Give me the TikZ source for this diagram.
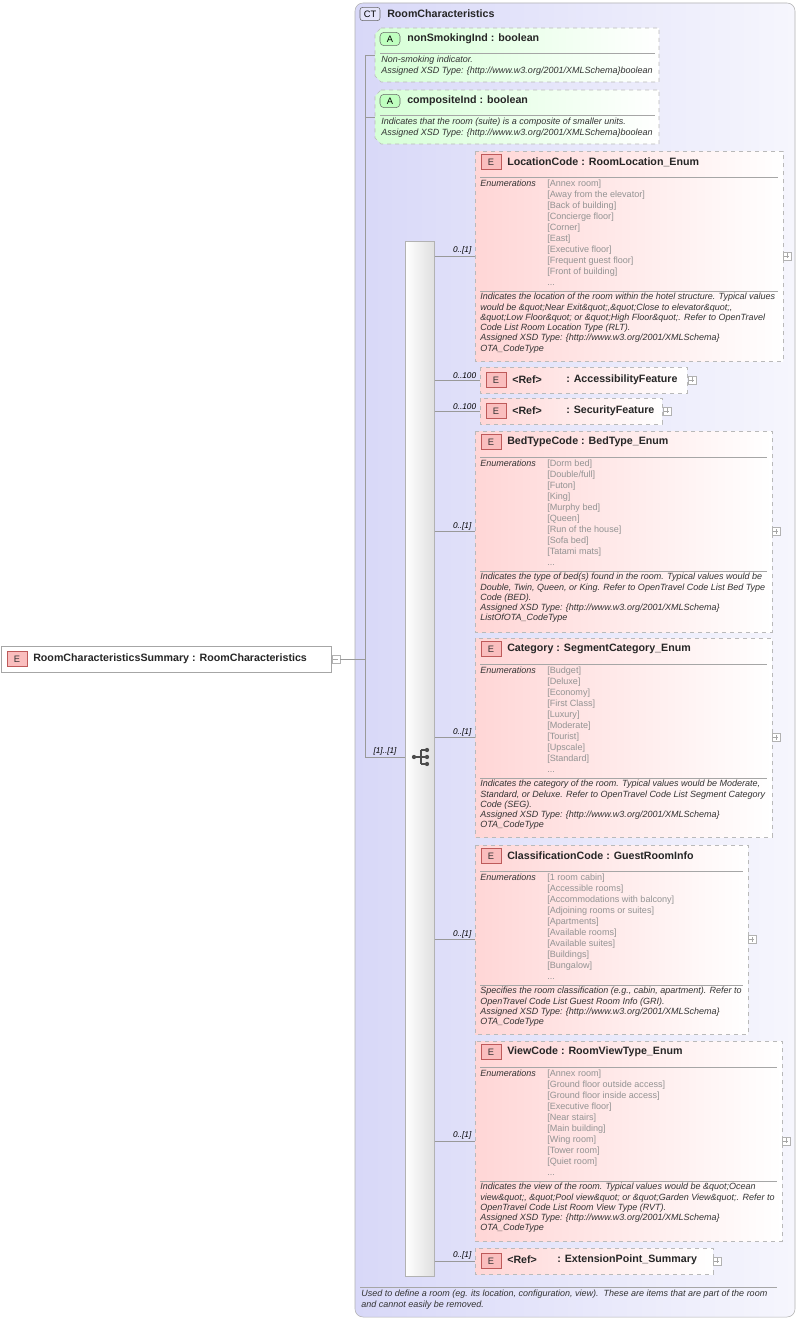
\documentclass[tikz,border=0pt]{standalone}
\usepackage{fontspec}
\setmainfont{Liberation Sans}
\definecolor{lav}{RGB}{216,216,248}
\definecolor{lavr}{RGB}{246,246,253}
\definecolor{pinkl}{RGB}{255,214,214}
\definecolor{grn}{RGB}{214,255,214}
\definecolor{ebd}{RGB}{190,90,90}
\definecolor{efill}{RGB}{250,190,190}
\tikzset{
 x=0.75pt,y=-0.75pt,
 ebox/.style={dashed,draw=gray!55,left color=pinkl,right color=white,shading angle=90},
 hdr/.style={font=\fontsize{8}{9}\selectfont\bfseries,text=black!85,inner sep=0pt,anchor=west},
 eicon/.style={draw=ebd,fill=efill,minimum width=15pt,minimum height=11pt,inner sep=0pt,font=\fontsize{7}{8}\selectfont,text=black!80},
 sep/.style={draw=gray!70},
 enumt/.style={font=\fontsize{6.8}{8.2}\selectfont,text=gray!85,inner sep=0pt,anchor=north west,align=left},
 desct/.style={font=\fontsize{6.75}{7.7}\selectfont\itshape,text=black!80,inner sep=0pt,anchor=north west,align=left},
 mult/.style={font=\fontsize{6.2}{7}\selectfont\itshape,inner sep=1pt,anchor=south east},
 conn/.style={draw=gray!80},
 plusb/.style={draw=gray!60,fill=white,minimum size=6pt,inner sep=0pt},
}
\newcommand\plusat[2]{\node[plusb] (#1) at (#2) {};\draw[gray!70] (#1.west)++(1.2pt,0) -- ++(3.6pt,0) (#1.north)++(0,-1.2pt) -- ++(0,-3.6pt);}
% id, top, bottom, right, header, items, desc
\newcommand\ebox[7]{%
 \draw[ebox] (475,#2) rectangle (#4,#3);
 \node[eicon] (#1i) at (491,#2+11) {E};
 \node[hdr] (#1h) at (507,#2+11) {#5};
 \draw[sep] (480,#2+26) -- (#4-5,#2+26);
 \node[desct] (#1n) at (480,#2+29) {Enumerations};
 \node[enumt] (#1e) at (547,#2+29) {#6};
 \draw[sep] (480,#2+140) -- (#4-5,#2+140);
 \node[desct] (#1d) at (480,#2+142) {#7};
 \coordinate (#1c) at (475,{(#2+#3)/2});
 \draw[conn] (seq.east |- #1c) -- (#1c) node[mult,pos=0.95] {0..[1]};
 \plusat{#1p}{#4+4,{(#2+#3)/2}}
}
\newcommand\refbox[6]{% id, y, right, mult, name, xoff
 \draw[ebox] (480,#2-13) rectangle (#3,#2+13);
 \node[eicon] (#1i) at (496,#2) {E};
 \node[hdr] (#1h) at (512,#2) {<Ref>};
 \node[hdr] (#1n) at (#6,#2) {: #5};
 \coordinate (#1c) at (480,#2);
 \draw[conn] (seq.east |- #1c) -- (#1c) node[mult,pos=0.95] {#4};
 \plusat{#1p}{#3+5,#2}
}
\begin{document}
\begin{tikzpicture}
\useasboundingbox (0,0) rectangle (800,1320);
\fill[white] (0,0) rectangle (800,1320);
% container
\draw[gray!60,rounded corners=6pt,left color=lav,right color=lavr,shading angle=90] (355,3) rectangle (795,1317);
\node[draw=black!60,fill=lav!70,rounded corners=2pt,minimum width=15pt,minimum height=10pt,inner sep=0pt,font=\fontsize{7}{8}\selectfont] (cti) at (370,14) {CT};
\node[hdr] (ct) at (387,14) {RoomCharacteristics};
% root
\node[draw=gray!70,fill=white,minimum width=247.5pt,minimum height=19.5pt,anchor=west,inner sep=0pt] (root) at (1,659) {};
\node[eicon] (rooti) at (17,659) {E};
\node[hdr] (rooth) at (33,659) {RoomCharacteristicsSummary : RoomCharacteristics};
\node[plusb] (rootp) at (336,659) {};
\draw[gray!70] (rootp.west)++(1.2pt,0) -- ++(3.6pt,0);
\coordinate (trunk) at (365,659);
\draw[conn] (rootp.east) -- (trunk);
% sequence bar
\node[draw=gray!60,left color=white,right color=gray!25,shading angle=90,minimum width=21.75pt,minimum height=776pt,inner sep=0pt,anchor=north west] (seq) at (405,241) {};
\fill[black!70] (414,757) circle (1.6pt) (427,750) circle (1.6pt) (427,757) circle (1.6pt) (427,764) circle (1.6pt);
\draw[black!70,thick] (414,757) -- (421,757) (421,750) -- (421,764) (421,750) -- (427,750) (421,764) -- (427,764) (421,757) -- (427,757);
% trunk lines
\coordinate (a1c) at (375,55);
\coordinate (a2c) at (375,117);
\draw[conn] (365,55) -- (365,757) -- (seq.west |- 0,757) node[mult,pos=0.5,anchor=south] {[1]..[1]};
\draw[conn] (365,55) -- (a1c);
\draw[conn] (365,117) -- (a2c);
% attributes
\foreach \t/\id/\nm/\d in {28/a1/nonSmokingInd/Non-smoking indicator., 90/a2/compositeInd/Indicates that the room (suite) is a composite of smaller units.}{
 \draw[dashed,draw=gray!55,left color=grn,right color=white,shading angle=90] (381,\t) -- (659,\t) -- (659,\t+54) -- (381,\t+54) -- (375,\t+48) -- (375,\t+6) -- cycle;
 \node[draw=black!60,fill=green!25,rounded corners=3pt,minimum width=15pt,minimum height=10pt,inner sep=0pt,font=\fontsize{7}{8}\selectfont] (\id i) at (390,\t+11) {A};
 \node[hdr] (\id h) at (407,\t+11) {\nm\ : boolean};
 \draw[sep] (380,\t+25) -- (655,\t+25);
 \node[desct] (\id d) at (381,\t+28) {\d\\Assigned XSD Type: \{http://www.w3.org/2001/XMLSchema\}boolean};
}
\ebox{loc}{151}{361}{783}{LocationCode : RoomLocation\_Enum}
 {[Annex room]\\[0pt][Away from the elevator]\\[0pt][Back of building]\\[0pt][Concierge floor]\\[0pt][Corner]\\[0pt][East]\\[0pt][Executive floor]\\[0pt][Frequent guest floor]\\[0pt][Front of building]\\...}
 {Indicates the location of the room within the hotel structure. Typical values\\would be \&quot;Near Exit\&quot;,\&quot;Close to elevator\&quot;,\\\&quot;Low Floor\&quot; or \&quot;High Floor\&quot;. Refer to OpenTravel\\Code List Room Location Type (RLT).\\Assigned XSD Type: \{http://www.w3.org/2001/XMLSchema\}\\OTA\_CodeType}
\refbox{acc}{380}{687}{0..100}{AccessibilityFeature}{566}
\refbox{sec}{411}{662}{0..100}{SecurityFeature}{566}
\ebox{bed}{431}{632}{772}{BedTypeCode : BedType\_Enum}
 {[Dorm bed]\\[0pt][Double/full]\\[0pt][Futon]\\[0pt][King]\\[0pt][Murphy bed]\\[0pt][Queen]\\[0pt][Run of the house]\\[0pt][Sofa bed]\\[0pt][Tatami mats]\\...}
 {Indicates the type of bed(s) found in the room. Typical values would be\\Double, Twin, Queen, or King. Refer to OpenTravel Code List Bed Type\\Code (BED).\\Assigned XSD Type: \{http://www.w3.org/2001/XMLSchema\}\\ListOfOTA\_CodeType}
\ebox{cat}{638}{837}{772}{Category : SegmentCategory\_Enum}
 {[Budget]\\[0pt][Deluxe]\\[0pt][Economy]\\[0pt][First Class]\\[0pt][Luxury]\\[0pt][Moderate]\\[0pt][Tourist]\\[0pt][Upscale]\\[0pt][Standard]\\[0pt]...}
 {Indicates the category of the room. Typical values would be Moderate,\\Standard, or Deluxe. Refer to OpenTravel Code List Segment Category\\Code (SEG).\\Assigned XSD Type: \{http://www.w3.org/2001/XMLSchema\}\\OTA\_CodeType}
\ebox{cls}{845}{1034}{748}{ClassificationCode : GuestRoomInfo}
 {[1 room cabin]\\[0pt][Accessible rooms]\\[0pt][Accommodations with balcony]\\[0pt][Adjoining rooms or suites]\\[0pt][Apartments]\\[0pt][Available rooms]\\[0pt][Available suites]\\[0pt][Buildings]\\[0pt][Bungalow]\\...}
 {Specifies the room classification (e.g., cabin, apartment). Refer to\\OpenTravel Code List Guest Room Info (GRI).\\Assigned XSD Type: \{http://www.w3.org/2001/XMLSchema\}\\OTA\_CodeType}
\ebox{view}{1041}{1241}{782}{ViewCode : RoomViewType\_Enum}
 {[Annex room]\\[0pt][Ground floor outside access]\\[0pt][Ground floor inside access]\\[0pt][Executive floor]\\[0pt][Near stairs]\\[0pt][Main building]\\[0pt][Wing room]\\[0pt][Tower room]\\[0pt][Quiet room]\\...}
 {Indicates the view of the room. Typical values would be \&quot;Ocean\\view\&quot;, \&quot;Pool view\&quot; or \&quot;Garden View\&quot;. Refer to\\OpenTravel Code List Room View Type (RVT).\\Assigned XSD Type: \{http://www.w3.org/2001/XMLSchema\}\\OTA\_CodeType}
% extension point
\draw[ebox] (475,1248) rectangle (713,1274);
\node[eicon] (exti) at (491,1261) {E};
\node[hdr] (exth) at (507,1260) {<Ref>};
\node[hdr] (extn) at (557,1260) {: ExtensionPoint\_Summary};
\coordinate (extc) at (475,1261);
\draw[conn] (seq.east |- extc) -- (extc) node[mult,pos=0.95] {0..[1]};
\plusat{extp}{717,1261}
% footer
\draw[sep] (360,1287) -- (777,1287);
\node[desct] (foot) at (361,1290) {Used to define a room (eg. its location, configuration, view).\ \ These are items that are part of the room\\and cannot easily be removed.};
\end{tikzpicture}
\end{document}
